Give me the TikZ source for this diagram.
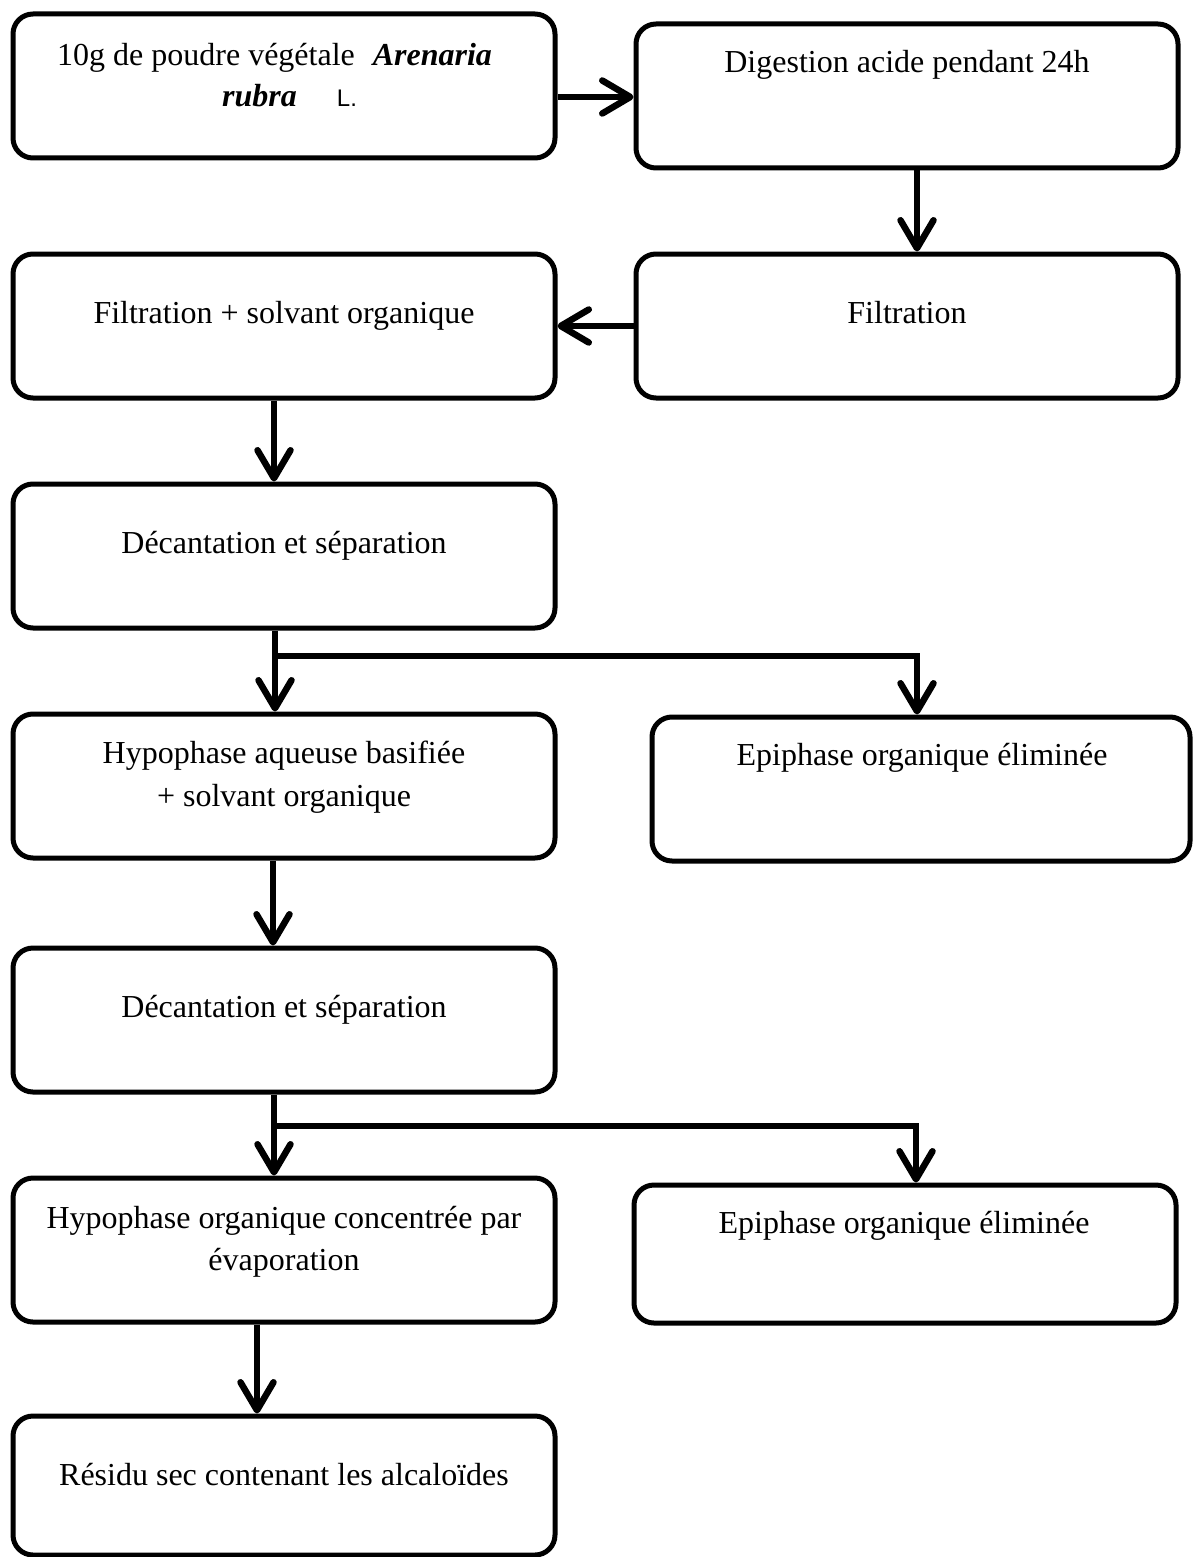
\documentclass[tikz,border=0pt]{standalone}
\usepackage{fontspec}
\setmainfont{Liberation Serif}
\newfontfamily\lsans{Liberation Sans}
\usetikzlibrary{arrows.meta}
\begin{document}
\begin{tikzpicture}[x=1pt,y=-1pt,
  stepbox/.style={draw, line width=5pt, rounded corners=20pt, inner sep=0pt,
    minimum width=542pt, minimum height=144pt},
  txt/.style={anchor=base, inner sep=0pt, font=\fontsize{32}{43}\selectfont},
  flow/.style={line width=6.5pt, -{Straight Barb[length=28pt,width=33pt,round]}},
  plain/.style={line width=6.5pt}]
\useasboundingbox (0,0) rectangle (1192,1557);

% process boxes
\node[stepbox] (a) at (284,86) {};
\node[stepbox] (b) at (907,96) {};
\node[stepbox] (c) at (907,326) {};
\node[stepbox] (d) at (284,326) {};
\node[stepbox] (e) at (284,556) {};
\node[stepbox] (f) at (284,786) {};
\node[stepbox, minimum width=538pt] (g) at (921,789) {};
\node[stepbox] (h) at (284,1020) {};
\node[stepbox] (i) at (284,1250) {};
\node[stepbox, minimum height=138pt] (j) at (905,1254) {};
\node[stepbox, minimum height=139pt] (k) at (284,1485.5) {};

% box texts
\node[txt, anchor=base west] (ta1) at (57,66) {10g de poudre végétale\hspace{18pt}\textbf{\textit{Arenaria}}};
\node[txt, anchor=base west] (ta2) at (222,107) {\textbf{\textit{rubra}}\hspace{40pt}{\lsans\fontsize{24}{26}\selectfont L.}};
\node[txt] (tb) at (907,73) {Digestion acide pendant 24h};
\node[txt] (tc) at (907,323) {Filtration};
\node[txt] (td) at (284,323) {Filtration + solvant organique};
\node[txt] (te) at (284,553) {Décantation et séparation};
\node[txt] (tf1) at (284,763) {Hypophase aqueuse basifiée};
\node[txt] (tf2) at (284,806) {+ solvant organique};
\node[txt] (tg) at (922,765) {Epiphase organique éliminée};
\node[txt] (th) at (284,1017) {Décantation et séparation};
\node[txt] (ti1) at (284,1228) {Hypophase organique concentrée par};
\node[txt] (ti2) at (284,1270) {évaporation};
\node[txt] (tj) at (904,1233) {Epiphase organique éliminée};
\node[txt] (tk) at (284,1485) {Résidu sec contenant les alcaloïdes};

% connectors
\draw[flow] ([yshift=-11pt]a.east) -- ([yshift=-11pt]a.east -| b.west);
\draw[flow] ([xshift=10pt]b.south) -- ([xshift=10pt]b.south |- c.north);
\draw[flow] (c.west) -- (d.east);
\draw[flow] ([xshift=-10pt]d.south) -- ([xshift=-10pt]d.south |- e.north);

\draw[flow] ([xshift=-9pt]e.south) -- ([xshift=-9pt]e.south |- f.north);
\coordinate (e1) at (276,656);
\draw[flow] (e1) -| ([xshift=-4pt]g.north);

\draw[flow] ([xshift=-11pt]f.south) -- ([xshift=-11pt]f.south |- h.north);

\draw[flow] ([xshift=-10pt]h.south) -- ([xshift=-10pt]h.south |- i.north);
\coordinate (h1) at (277,1126);
\draw[flow] (h1) -| ([xshift=11pt]j.north);

\draw[flow] ([xshift=-27pt]i.south) -- ([xshift=-27pt]i.south |- k.north);
\end{tikzpicture}
\end{document}
